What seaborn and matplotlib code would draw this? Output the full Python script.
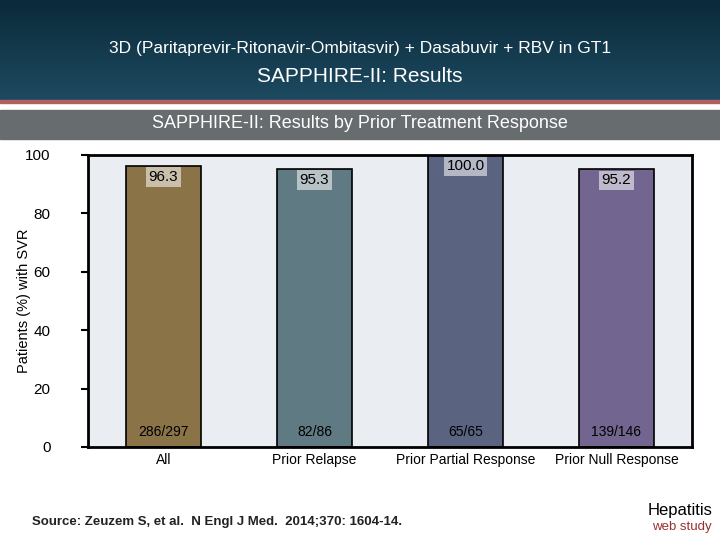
import matplotlib
matplotlib.use("Agg")
import matplotlib.pyplot as plt
import seaborn as sns
import numpy as np
import pandas as pd

categories = ["All", "Prior Relapse", "Prior Partial Response", "Prior Null Response"]
svr = [96.3, 95.3, 100.0, 95.2]
counts = ["286/297", "82/86", "65/65", "139/146"]
colors = ["#8a7347", "#5f7a82", "#5a6480", "#726690"]

fig = plt.figure(figsize=(7.2, 5.4), dpi=100)
fig.patch.set_facecolor("white")

hdr = fig.add_axes([0, 1 - 100/540, 1, 100/540])
grad = np.linspace(0, 1, 100).reshape(-1, 1)
hdr.imshow(grad, aspect="auto", cmap=matplotlib.colors.LinearSegmentedColormap.from_list("h", ["#0b2a3a", "#1d4a60"]), extent=[0, 1, 0, 1])
hdr.axis("off")
fig.add_artist(plt.Rectangle((0, 1 - 103/540), 1, 3/540, color="#b06060", transform=fig.transFigure))
fig.text(0.5, 1 - 48/540, "3D (Paritaprevir-Ritonavir-Ombitasvir) + Dasabuvir + RBV in GT1",
         ha="center", va="center", color="white", fontsize=12.5, family="Liberation Sans")
fig.text(0.5, 1 - 76/540, "SAPPHIRE-II: Results", ha="center", va="center", color="white",
         fontsize=15, family="Liberation Sans")
fig.add_artist(plt.Rectangle((0, 1 - 139/540), 1, 29/540, color="#676c6f", transform=fig.transFigure))
fig.text(0.5, 1 - 123/540, "SAPPHIRE-II: Results by Prior Treatment Response", ha="center", va="center",
         color="white", fontsize=13, family="Liberation Sans")

ax = fig.add_axes([88/720, 1 - 447/540, 604/720, 292/540])
ax.set_facecolor("#eaedf2")
df = pd.DataFrame({"cat": categories, "svr": svr})
sns.barplot(data=df, x="cat", y="svr", hue="cat", palette=colors, legend=False, width=0.5,
            edgecolor="black", linewidth=1.2, ax=ax, saturation=1)
ax.set_ylim(0, 100)
ax.set_yticks([0, 20, 40, 60, 80, 100])
ax.set_yticklabels(["0", "20", "40", "60", "80", "100"], fontsize=11, family="Liberation Sans")
ax.set_xlabel("")
ax.set_xticks([])
ax.set_ylabel("Patients (%) with SVR", fontsize=10.5, family="Liberation Sans")
ax.yaxis.set_label_coords(-0.095, 0.5)
ax.tick_params(axis="y", length=5, width=1.5, pad=22)
for s in ax.spines.values():
    s.set_linewidth(2)
for i, (v, c, cat) in enumerate(zip(svr, counts, categories)):
    ax.text(i, v - 1.5, f"{v:.1f}", ha="center", va="top", fontsize=11, family="Liberation Sans",
            bbox=dict(facecolor="white", alpha=0.55, edgecolor="none", pad=2))
    ax.text(i, 5, c, ha="center", va="center", fontsize=10, family="Liberation Sans", color="black")
    ax.text(i, -4.5, cat, ha="center", va="center", fontsize=10, family="Liberation Sans", clip_on=False)

fig.text(32/720, 1 - 522/540, "Source: Zeuzem S, et al.  N Engl J Med.  2014;370: 1604-14.",
         fontsize=9.5, weight="bold", family="Liberation Sans", color="#222222", va="center")
fig.text(648/720, 1 - 511/540, "Hepatitis", fontsize=12, family="Liberation Sans", va="center")
fig.text(652/720, 1 - 527/540, "web study", fontsize=9.5, family="Liberation Sans", color="#9a3030", va="center")

fig.savefig("out.png", dpi=100)
